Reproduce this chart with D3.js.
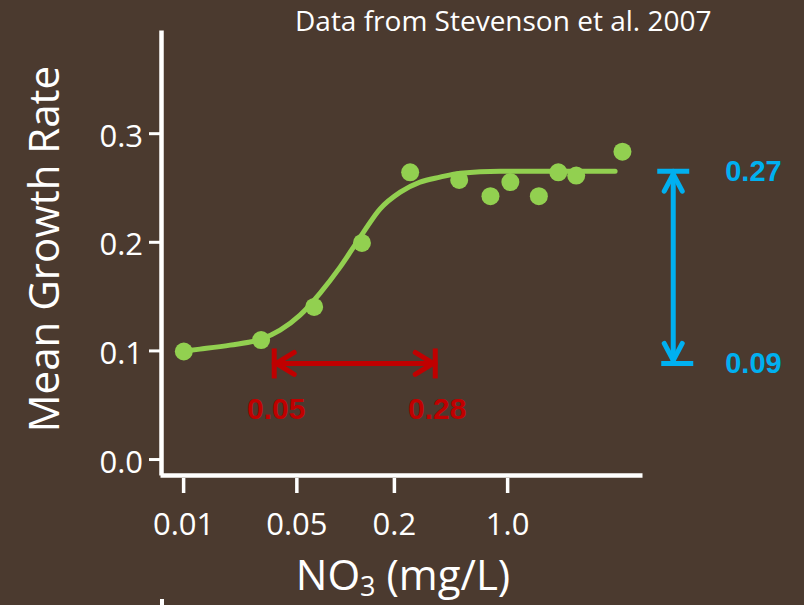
<!DOCTYPE html>
<html>
<head>
<meta charset="utf-8">
<script src="https://cdn.jsdelivr.net/npm/d3@7"></script>
<style>
  html, body { margin: 0; padding: 0; background: #4b3a2f; }
  svg { display: block; }
  text { font-family: "Open Sans", sans-serif; fill: #ffffff; }
</style>
</head>
<body>
<div id="graph-holder"></div>
<script>
// measured points (NO3 mg/L, mean growth rate)
var nitrate = [0.0101, 0.0303, 0.0644, 0.127, 0.252, 0.506, 0.789, 1.047, 1.57, 2.07, 2.67, 5.15];
var growth = [0.099, 0.1095, 0.140, 0.199, 0.264, 0.257, 0.242, 0.255, 0.242, 0.264, 0.261, 0.283];

// fitted curve
var fitX = [0.0101, 0.0127, 0.0195, 0.0303, 0.0397, 0.0527, 0.0701, 0.0931, 0.124, 0.164, 0.219, 0.290, 0.385, 0.513, 0.906, 4.64];
var fitY = [0.0994, 0.1012, 0.1049, 0.1104, 0.1187, 0.1325, 0.1528, 0.1767, 0.2043, 0.2301, 0.2457, 0.2549, 0.2595, 0.2632, 0.2650, 0.2650];

var xTicks = [0.01, 0.05, 0.2, 1.0];
var xTickLabels = ["0.01", "0.05", "0.2", "1.0"];
var yTicks = [0.0, 0.1, 0.2, 0.3];
var yTickLabels = ["0.0", "0.1", "0.2", "0.3"];

// annotations
var rangeX = [0.0365, 0.36];        // red arrow ends
var rangeXLabels = ["0.05", "0.28"];
var rangeY = [0.088, 0.265];        // blue arrow ends
var rangeYLabels = ["0.09", "0.27"];
var arrowY = 0.088;                 // height of red arrow
var blueArrowX = 10.6;

var margin = { top: 30, right: 162, bottom: 130, left: 160 },
  width = 804 - margin.left - margin.right,
  height = 605 - margin.top - margin.bottom;

var x = d3.scaleLog().domain([0.0072, 6.8]).range([0, width]);
var y = d3.scaleLinear().domain([-0.0147, 0.395]).range([height, 0]);

var svg = d3
  .select("#graph-holder")
  .append("svg")
  .attr("width", 804)
  .attr("height", 605);

var g = svg.append("g")
  .attr("transform", "translate(" + margin.left + "," + margin.top + ")");

// title
svg.append("text")
  .text("Data from Stevenson et al. 2007")
  .attr("x", 295)
  .attr("y", 31)
  .style("font-size", "28px");

// Y axis
var yAxis = g.append("g")
  .attr("transform", "translate(1,0)")
  .call(d3.axisLeft(y).tickValues(yTicks).tickSize(12).tickSizeOuter(0).tickPadding(6)
    .tickFormat(function(d, i) { return yTickLabels[i]; }));
yAxis.select(".domain").attr("stroke", "white").attr("stroke-width", 4.5);
yAxis.selectAll(".tick line").attr("stroke", "white").attr("stroke-width", 3);
yAxis.selectAll(".tick text")
  .attr("fill", "white")
  .attr("dy", "0.42em")
  .style("font-size", "31px")
  .style("font-family", "Open Sans");

// X axis
var xAxis = g.append("g")
  .attr("transform", "translate(0," + height + ")")
  .call(d3.axisBottom(x).tickValues(xTicks).tickSize(18).tickSizeOuter(0)
    .tickFormat(function(d, i) { return xTickLabels[i]; }));
xAxis.select(".domain").attr("stroke", "white").attr("stroke-width", 4.5);
xAxis.selectAll(".tick line").attr("stroke", "white").attr("stroke-width", 3.5).attr("y1", 3);
xAxis.selectAll(".tick text")
  .attr("fill", "white")
  .attr("y", 60)
  .attr("dy", 0)
  .style("font-size", "31px")
  .style("font-family", "Open Sans");

// axis titles
svg.append("text")
  .attr("transform", "translate(59,249) rotate(-90)")
  .attr("text-anchor", "middle")
  .style("font-size", "42px")
  .text("Mean Growth Rate");

var xTitle = svg.append("text")
  .attr("x", 403)
  .attr("y", 590)
  .attr("text-anchor", "middle")
  .style("font-size", "42px");
xTitle.append("tspan").text("NO");
xTitle.append("tspan").attr("dy", 6).style("font-size", "27px").text("3");
xTitle.append("tspan").attr("dy", -6).text(" (mg/L)");

// stray axis stub at the bottom edge
svg.append("line")
  .attr("x1", 162).attr("x2", 162)
  .attr("y1", 599).attr("y2", 605)
  .attr("stroke", "white").attr("stroke-width", 4);

// fitted curve
var fit = fitX.map(function(d, i) { return { x: d, y: fitY[i] }; });
var valueline = d3.line()
  .x(function(d) { return x(d.x); })
  .y(function(d) { return y(d.y); })
  .curve(d3.curveMonotoneX);

g.append("path")
  .data([fit])
  .attr("d", valueline)
  .attr("fill", "none")
  .attr("stroke", "#92d050")
  .attr("stroke-width", 5)
  .attr("stroke-linecap", "round");

// points
g.selectAll(".dot")
  .data(nitrate)
  .enter()
  .append("circle")
  .attr("class", "dot")
  .attr("cx", function(d) { return x(d); })
  .attr("cy", function(d, i) { return y(growth[i]); })
  .attr("r", 9)
  .attr("fill", "#92d050");

// red range arrow
var red = "#c00000";
var ax0 = x(rangeX[0]), ax1 = x(rangeX[1]), ay = y(arrowY);
var redG = g.append("g")
  .attr("stroke", red)
  .attr("stroke-width", 5)
  .attr("fill", "none")
  .attr("stroke-linecap", "round")
  .attr("stroke-linejoin", "round");
redG.append("line").attr("x1", ax0).attr("x2", ax1).attr("y1", ay).attr("y2", ay);
redG.append("line").attr("x1", ax0).attr("x2", ax0).attr("y1", ay - 15).attr("y2", ay + 15).attr("stroke-linecap", "butt");
redG.append("line").attr("x1", ax1).attr("x2", ax1).attr("y1", ay - 15).attr("y2", ay + 15).attr("stroke-linecap", "butt");
redG.append("path").attr("d", "M" + (ax0 + 20) + "," + (ay - 11) + "L" + (ax0 + 2) + "," + ay + "L" + (ax0 + 20) + "," + (ay + 11));
redG.append("path").attr("d", "M" + (ax1 - 20) + "," + (ay - 11) + "L" + (ax1 - 2) + "," + ay + "L" + (ax1 - 20) + "," + (ay + 11));

g.selectAll(".redlabel")
  .data(rangeXLabels)
  .enter()
  .append("text")
  .attr("class", "redlabel")
  .attr("x", function(d, i) { return x(rangeX[i]) + 2; })
  .attr("y", ay + 56)
  .attr("text-anchor", "middle")
  .style("font-family", "'Liberation Sans', Arial, sans-serif")
  .style("font-weight", "bold")
  .style("font-size", "30px")
  .style("fill", red)
  .text(function(d) { return d; });

// blue range arrow
var blue = "#00b0f0";
var bx = x(blueArrowX), by0 = y(rangeY[0]), by1 = y(rangeY[1]);
var blueG = g.append("g")
  .attr("stroke", blue)
  .attr("stroke-width", 5)
  .attr("fill", "none")
  .attr("stroke-linecap", "round")
  .attr("stroke-linejoin", "round");
blueG.append("line").attr("x1", bx).attr("x2", bx).attr("y1", by0).attr("y2", by1);
blueG.append("line").attr("x1", bx - 16).attr("x2", bx + 16).attr("y1", by1).attr("y2", by1).attr("stroke-linecap", "butt");
blueG.append("line").attr("x1", bx - 12).attr("x2", bx + 20).attr("y1", by0).attr("y2", by0).attr("stroke-linecap", "butt");
blueG.append("path").attr("d", "M" + (bx - 9) + "," + (by1 + 20) + "L" + bx + "," + (by1 + 3) + "L" + (bx + 9) + "," + (by1 + 20));
blueG.append("path").attr("d", "M" + (bx - 9) + "," + (by0 - 20) + "L" + bx + "," + (by0 - 3) + "L" + (bx + 9) + "," + (by0 - 20));

g.selectAll(".bluelabel")
  .data(rangeYLabels)
  .enter()
  .append("text")
  .attr("class", "bluelabel")
  .attr("x", bx + 52)
  .attr("y", function(d, i) { return y(rangeY[i]) + 10; })
  .style("font-family", "'Liberation Sans', Arial, sans-serif")
  .style("font-weight", "bold")
  .style("font-size", "29px")
  .style("fill", blue)
  .text(function(d) { return d; });
</script>
</body>
</html>
